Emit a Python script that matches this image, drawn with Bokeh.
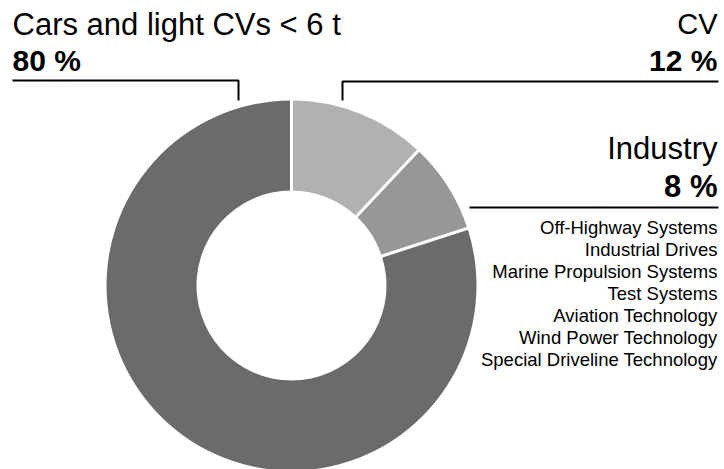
import numpy as np
from bokeh.plotting import figure
from bokeh.models import Range1d, ColumnDataSource
from bokeh.core.properties import value
from bokeh.embed import file_html
from bokeh.resources import INLINE

# ---- data ----
segments = ["CV", "Industry", "Cars and light CVs < 6 t"]
shares = [12, 8, 80]
share_labels = ["12 %", "8 %", "80 %"]
colors = ["#b1b1b1", "#979797", "#6b6b6b"]
industry_items = [
    "Off-Highway Systems",
    "Industrial Drives",
    "Marine Propulsion Systems",
    "Test Systems",
    "Aviation Technology",
    "Wind Power Technology",
    "Special Driveline Technology",
]

# ---- layout helpers (pixel coords from top-left -> data) ----
W, H = 724, 469
def Y(py):
    return H - py

def BL(py, size):
    # baseline correction for Bokeh text placement
    return Y(py - 0.32 * size)

FONT = value("Liberation Sans")

p = figure(width=W, height=H, output_backend="svg", toolbar_location=None,
           x_range=Range1d(0, W), y_range=Range1d(0, H),
           x_axis_location=None, y_axis_location=None, min_border=0,
           tools="")
p.grid.visible = False
p.outline_line_color = None
p.background_fill_color = "white"
p.border_fill_color = "white"

cx, cy = 291, Y(285)
r_out, r_in = 185, 95

frac = np.array(shares, dtype=float) / sum(shares)
cum = np.concatenate([[0], np.cumsum(frac)])
starts = np.pi / 2 - 2 * np.pi * cum[:-1]
ends = np.pi / 2 - 2 * np.pi * cum[1:]

src = ColumnDataSource(dict(x=[cx] * 3, y=[cy] * 3, start=starts, end=ends, color=colors))
p.annular_wedge(x="x", y="y", inner_radius=r_in, outer_radius=r_out,
                start_angle="start", end_angle="end", direction="clock",
                fill_color="color", line_color=None, source=src)

# white separators at slice boundaries
b_ang = np.pi / 2 - 2 * np.pi * cum[:-1]
x0 = cx + (r_in - 2) * np.cos(b_ang)
y0 = cy + (r_in - 2) * np.sin(b_ang)
x1 = cx + (r_out + 2) * np.cos(b_ang)
y1 = cy + (r_out + 2) * np.sin(b_ang)
p.segment(x0=x0, y0=y0, x1=x1, y1=y1, line_color="white", line_width=3)

# leader lines
p.line(x=[12, 238, 238], y=[Y(80), Y(80), Y(100)], line_color="black", line_width=2)
p.line(x=[342, 342, 718], y=[Y(100), Y(81), Y(81)], line_color="black", line_width=2)
p.line(x=[469, 718], y=[Y(207), Y(207)], line_color="black", line_width=2)

# labels
p.text(x=[12], y=[BL(34, 31)], text=[segments[2]], text_font=FONT, text_font_size="31px",
       text_align="left", text_baseline="alphabetic", text_color="black")
p.text(x=[12], y=[BL(70, 30)], text=[share_labels[2]], text_font=FONT, text_font_size="30px",
       text_font_style="bold", text_align="left", text_baseline="alphabetic", text_color="black")

p.text(x=[717], y=[BL(33, 29)], text=[segments[0]], text_font=FONT, text_font_size="29px",
       text_align="right", text_baseline="alphabetic", text_color="black")
p.text(x=[717], y=[BL(70, 30)], text=[share_labels[0]], text_font=FONT, text_font_size="30px",
       text_font_style="bold", text_align="right", text_baseline="alphabetic", text_color="black")

p.text(x=[717], y=[BL(158, 31)], text=[segments[1]], text_font=FONT, text_font_size="31px",
       text_align="right", text_baseline="alphabetic", text_color="black")
p.text(x=[717], y=[BL(196, 31)], text=[share_labels[1]], text_font=FONT, text_font_size="31px",
       text_font_style="bold", text_align="right", text_baseline="alphabetic", text_color="black")

item_y = [BL(233 + 22 * i, 18.5) for i in range(len(industry_items))]
p.text(x=[717] * len(industry_items), y=item_y, text=industry_items, text_font=FONT,
       text_font_size="18.5px", text_align="right", text_baseline="alphabetic",
       text_color="black")

open("out.html", "w").write(file_html(p, INLINE))
